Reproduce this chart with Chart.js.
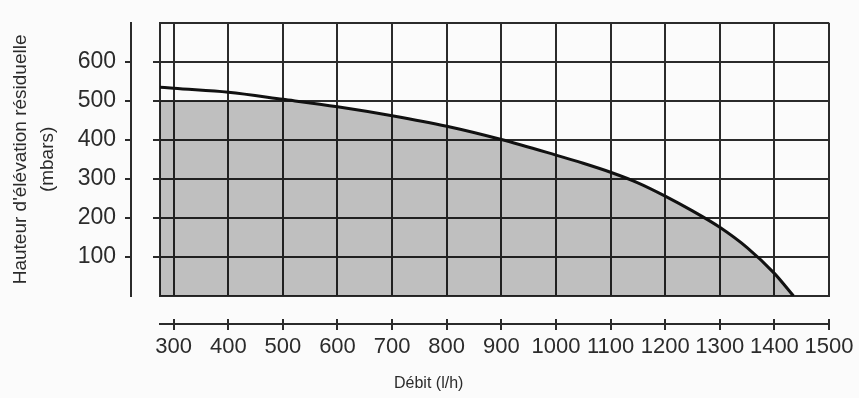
<!DOCTYPE html>
<html lang="fr">
<head>
  <meta charset="UTF-8">
  <title>Débit / hauteur d'élévation résiduelle</title>
  <script src="https://cdn.jsdelivr.net/npm/chart.js@4.4.1/dist/chart.umd.min.js"></script>
  <style>
    html, body { margin: 0; padding: 0; background: #fbfbfb; }
    #wrap { width: 859px; height: 398px; }
  </style>
</head>
<body>
  <div id="wrap"><canvas id="pumpChart"></canvas></div>
  <script>
    // values
    const flow = [275, 300, 400, 500, 600, 700, 800, 900, 1000, 1050, 1100, 1150, 1200, 1250, 1300, 1350, 1400, 1435];
    const head = [535, 532, 522, 504, 485, 462, 435, 401, 361, 340, 317, 290, 256, 218, 176, 124, 58, 0];
    // the grey area stays under the 500 line on the left
    const shade = [500, 500, 500, 500, 483, 460, 433, 399, 359, 338, 315, 288, 254, 216, 174, 122, 56, 0];
    const xTicks = [300, 400, 500, 600, 700, 800, 900, 1000, 1100, 1200, 1300, 1400, 1500];
    const yTicks = [100, 200, 300, 400, 500, 600];
    const xGrid = [300, 400, 500, 600, 700, 800, 900, 1000, 1100, 1200, 1300, 1400, 1500];
    const yGrid = [100, 200, 300, 400, 500, 600, 700];
    const xRange = [275, 1500];
    const yRange = [0, 700];
    const xTitle = 'Débit (l/h)';
    const xTitleAt = 767;
    const yTitle = ["Hauteur d'élévation résiduelle", '(mbars)'];

    const ink = '#2b2b2b';
    const fontFam = "'Liberation Sans', Arial, sans-serif";

    const pts = (ys) => flow.map((x, i) => ({ x: x, y: ys[i] }));
    const plain = v => String(v);

    const xTitlePlugin = {
      id: 'xTitle',
      afterDraw(chart) {
        const s = chart.scales.x2;
        const ctx = chart.ctx;
        ctx.save();
        ctx.fillStyle = ink;
        ctx.font = '16px ' + fontFam;
        ctx.textAlign = 'center';
        ctx.textBaseline = 'middle';
        ctx.fillText(xTitle, s.getPixelForValue(xTitleAt), s.bottom - 14);
        ctx.restore();
      }
    };

    new Chart(document.getElementById('pumpChart'), {
      type: 'line',
      data: {
        datasets: [{
          data: pts(head),
          borderColor: '#111',
          borderWidth: 3,
          fill: false,
          pointRadius: 0,
          cubicInterpolationMode: 'monotone'
        }, {
          data: pts(shade),
          borderWidth: 0,
          borderColor: 'transparent',
          backgroundColor: 'rgba(0,0,0,0.24)',
          fill: 'origin',
          pointRadius: 0,
          cubicInterpolationMode: 'monotone'
        }]
      },
      options: {
        responsive: true,
        maintainAspectRatio: false,
        animation: false,
        events: [],
        layout: { padding: { top: 12, right: 30, left: 0, bottom: 0 } },
        plugins: { legend: { display: false }, tooltip: { enabled: false } },
        scales: {
          x: {
            type: 'linear', position: 'bottom', weight: 0,
            min: xRange[0], max: xRange[1],
            afterBuildTicks: s => { s.ticks = xGrid.map(v => ({ value: v })); },
            ticks: { display: false },
            grid: {
              color: ink, lineWidth: 2, drawTicks: true, tickLength: 28,
              tickColor: ink, tickWidth: 2, tickBorderDash: [0, 22, 6, 100]
            },
            border: { display: true, color: ink, width: 2 }
          },
          x2: {
            type: 'linear', position: 'bottom', weight: 1,
            min: xRange[0], max: xRange[1],
            afterBuildTicks: s => { s.ticks = xTicks.map(v => ({ value: v })); },
            afterFit: s => { s.height = 74; },
            ticks: { color: ink, padding: 4, maxRotation: 0, autoSkip: false, callback: plain,
                     font: { family: fontFam, size: 22 } },
            grid: { drawOnChartArea: false, drawTicks: true, tickLength: 6, color: ink, lineWidth: 2 },
            border: { display: true, color: ink, width: 2 }
          },
          y: {
            type: 'linear', position: 'left', weight: 0,
            min: yRange[0], max: yRange[1],
            afterBuildTicks: s => { s.ticks = yGrid.map(v => ({ value: v })); },
            ticks: { display: false },
            grid: {
              color: ink, lineWidth: 2, drawTicks: true, tickLength: 29,
              tickColor: c => (c.tick && c.tick.value === 700 ? 'transparent' : ink),
              tickWidth: 2, tickBorderDash: [0, 22, 7, 100]
            },
            border: { display: true, color: ink, width: 2 }
          },
          y2: {
            type: 'linear', position: 'left', weight: 1,
            min: yRange[0], max: yRange[1],
            afterBuildTicks: s => { s.ticks = yTicks.map(v => ({ value: v })); },
            afterFit: s => { s.width = 131; },
            ticks: { color: ink, padding: 9, callback: plain, font: { family: fontFam, size: 23 } },
            grid: { drawOnChartArea: false, drawTicks: true, tickLength: 6, color: ink, lineWidth: 2 },
            border: { display: true, color: ink, width: 2 },
            title: {
              display: true, text: yTitle, color: ink,
              padding: { top: 7, bottom: 0 },
              font: { family: fontFam, size: 19, lineHeight: '27px' }
            }
          }
        }
      },
      plugins: [xTitlePlugin]
    });
  </script>
</body>
</html>
